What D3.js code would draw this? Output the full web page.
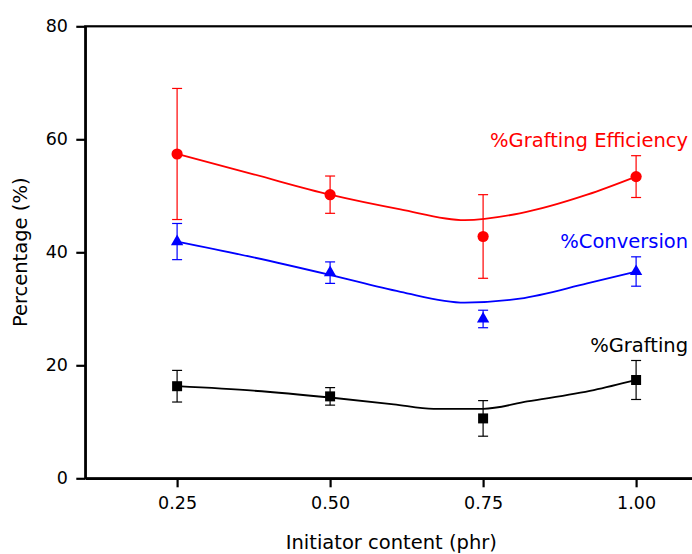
<!DOCTYPE html>
<html>
<head>
<meta charset="utf-8">
<script src="https://cdn.jsdelivr.net/npm/d3@7/dist/d3.min.js"></script>
<style>
  html, body { margin: 0; padding: 0; background: #ffffff; }
  svg { display: block; }
  text { font-family: "DejaVu Sans", Verdana, sans-serif; }
</style>
</head>
<body>
<svg id="chart" width="692" height="554"></svg>
<script>
// Initiator content levels (phr)
const initiator = [0.25, 0.50, 0.75, 1.00];

// Measured percentages and their error (±)
const graftEff = [57.4, 50.2, 42.8, 53.4];
const graftEffErr = [11.6, 3.3, 7.4, 3.7];

const conversion = [41.9, 36.4, 28.2, 36.6];
const conversionErr = [3.2, 1.9, 1.55, 2.6];

const grafting = [16.3, 14.5, 10.6, 17.4];
const graftingErr = [2.8, 1.55, 3.15, 3.45];

// Smoothed trend curves: [initiator, percentage]
const graftEffFit = [[0.25, 57.4], [0.375, 53.8], [0.5, 50.2], [0.615, 47.6], [0.72, 45.7], [0.81, 46.9], [0.92, 50.2], [1.0, 53.4]];
const conversionFit = [[0.25, 41.9], [0.375, 39.1], [0.5, 36.0], [0.615, 33.0], [0.72, 31.1], [0.81, 31.8], [0.92, 34.5], [1.0, 36.6]];
const graftingFit = [[0.25, 16.3], [0.375, 15.5], [0.5, 14.3], [0.604, 13.1], [0.669, 12.3], [0.75, 12.3], [0.822, 13.6], [0.931, 15.6], [1.0, 17.4]];

// Axis ticks
const xTicks = [0.25, 0.50, 0.75, 1.00];
const yTicks = [0, 20, 40, 60, 80];

// Series labels
const labels = ["%Grafting Efficiency", "%Conversion", "%Grafting"];
const labelValues = [58.7, 40.8, 22.3];

const svg = d3.select("#chart");

const x = d3.scaleLinear().domain([0.1, 1.1]).range([85.3, 697.3]);
const y = d3.scaleLinear().domain([0, 80]).range([478.3, 26.3]);

// Plot frame
svg.append("rect")
  .attr("x", x(0.1)).attr("y", y(80))
  .attr("width", x(1.1) - x(0.1)).attr("height", y(0) - y(80))
  .attr("fill", "none").attr("stroke", "#000").attr("stroke-width", 2.2);

// Axes
const yAxis = svg.append("g")
  .attr("transform", `translate(${x(0.1)},0)`)
  .call(d3.axisLeft(y).tickValues(yTicks).tickFormat(d3.format("d"))
    .tickSize(9).tickSizeOuter(0).tickPadding(8.3));
const xAxis = svg.append("g")
  .attr("transform", `translate(0,${y(0)})`)
  .call(d3.axisBottom(x).tickValues(xTicks).tickFormat(d3.format(".2f"))
    .tickSize(9).tickSizeOuter(0).tickPadding(9.4));

[xAxis, yAxis].forEach(g => {
  g.select(".domain").attr("stroke-width", 2.2);
  g.selectAll(".tick line").attr("stroke-width", 2.2);
  g.selectAll(".tick text").attr("font-size", 17.5).attr("fill", "#000")
    .style("font-family", "'DejaVu Sans', Verdana, sans-serif");
});

// Axis titles
svg.append("text")
  .attr("x", (x(0.1) + x(1.1)) / 2).attr("y", 549)
  .attr("text-anchor", "middle").attr("font-size", 19.5)
  .text("Initiator content (phr)");
svg.append("text")
  .attr("transform", `translate(27,${(y(0) + y(80)) / 2}) rotate(-90)`)
  .attr("text-anchor", "middle").attr("font-size", 19.5)
  .text("Percentage (%)");

const line = d3.line().x(d => x(d[0])).y(d => y(d[1])).curve(d3.curveMonotoneX);

const series = [
  { vals: graftEff, err: graftEffErr, fit: graftEffFit, color: "#ff0000", shape: "circle" },
  { vals: conversion, err: conversionErr, fit: conversionFit, color: "#0000ff", shape: "triangle" },
  { vals: grafting, err: graftingErr, fit: graftingFit, color: "#000000", shape: "square" }
];

series.forEach(s => {
  const g = svg.append("g");
  // trend curve
  g.append("path").datum(s.fit)
    .attr("d", line).attr("fill", "none")
    .attr("stroke", s.color).attr("stroke-width", 1.8);

  const pts = initiator.map((v, i) => ({ x: v, y: s.vals[i], e: s.err[i] }));

  // error bars
  const eb = g.selectAll(".eb").data(pts).enter().append("g")
    .attr("stroke", s.color).attr("stroke-width", 1.2);
  eb.append("line")
    .attr("x1", d => x(d.x)).attr("x2", d => x(d.x))
    .attr("y1", d => y(d.y - d.e)).attr("y2", d => y(d.y + d.e));
  eb.append("line")
    .attr("x1", d => x(d.x) - 5).attr("x2", d => x(d.x) + 5)
    .attr("y1", d => y(d.y + d.e)).attr("y2", d => y(d.y + d.e));
  eb.append("line")
    .attr("x1", d => x(d.x) - 5).attr("x2", d => x(d.x) + 5)
    .attr("y1", d => y(d.y - d.e)).attr("y2", d => y(d.y - d.e));

  // markers
  const symType = s.shape === "circle" ? d3.symbolCircle
    : s.shape === "triangle" ? d3.symbolTriangle : d3.symbolSquare;
  const symSize = s.shape === "circle" ? Math.PI * 5.6 * 5.6
    : s.shape === "triangle" ? 66 : 100;
  g.selectAll(".mk").data(pts).enter().append("path")
    .attr("transform", d => `translate(${x(d.x)},${y(d.y)})`)
    .attr("d", d3.symbol().type(symType).size(symSize))
    .attr("fill", s.color);
});

// Series labels
const labelColors = ["#ff0000", "#0000ff", "#000000"];
svg.selectAll(".lbl").data(labels).enter().append("text")
  .attr("x", x(1.085))
  .attr("y", (d, i) => y(labelValues[i]))
  .attr("text-anchor", "end").attr("font-size", 19.5)
  .attr("fill", (d, i) => labelColors[i])
  .text(d => d);
</script>
</body>
</html>
